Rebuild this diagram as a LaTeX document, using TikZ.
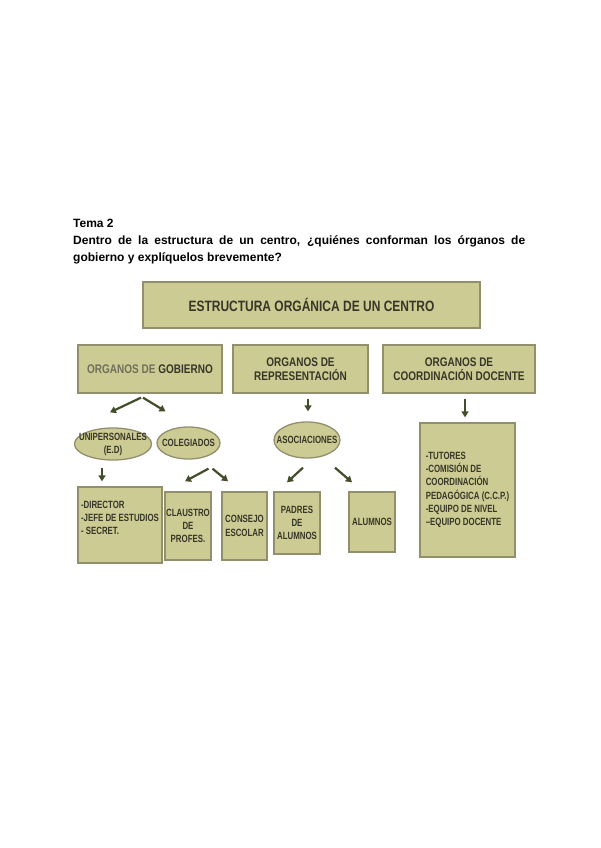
\documentclass[tikz,border=0pt]{standalone}
\usepackage{fontspec}
\setmainfont{Liberation Sans}
\newfontfamily\titlefont[FakeStretch=0.8]{Liberation Sans}
\newfontfamily\headfont[FakeStretch=0.8]{Liberation Sans}
\newfontfamily\smallfont[FakeStretch=0.75]{Liberation Sans}
\usepackage{xcolor}
\usetikzlibrary{arrows.meta,positioning,shapes.geometric}

\definecolor{boxfill}{RGB}{204,203,148}
\definecolor{boxline}{RGB}{145,143,108}
\definecolor{boxtext}{RGB}{55,55,40}
\definecolor{lighttext}{RGB}{112,112,90}
\definecolor{arrowcol}{RGB}{66,78,42}

\begin{document}
\begin{tikzpicture}[
  x=1pt, y=-1pt,
  box/.style={draw=boxline, line width=1.3pt, fill=boxfill, text=boxtext, inner sep=1pt, align=center},
  topbox/.style={box, minimum width=337, minimum height=46, font=\titlefont\bfseries\fontsize{15}{17}\selectfont},
  headbox/.style={box, minimum height=48, font=\headfont\bfseries\fontsize{12.5}{14}\selectfont},
  listbox/.style={box, font=\smallfont\bfseries\fontsize{10.5}{13.3}\selectfont},
  oval/.style={ellipse, draw=boxline, line width=1.3pt, fill=boxfill, inner sep=0pt},
  ovaltext/.style={align=center, text=boxtext, inner sep=0pt, font=\smallfont\bfseries\fontsize{10.5}{13}\selectfont},
  line/.style={-{Triangle[length=6pt, width=7pt]}, line width=2.2pt, draw=arrowcol}
]
\fill[white] (0,0) rectangle (600,848);
\useasboundingbox (0,0) rectangle (600,848);

\node[anchor=north west, text width=452pt, align=justify, inner sep=0pt,
  font=\bfseries\fontsize{12}{17}\selectfont] (question) at (73,219)
  {Tema 2\\
   Dentro de la estructura de un centro, ¿quiénes conforman los órganos de\linebreak
   gobierno y explíquelos brevemente?};

\node[topbox] (estructura) at (311.5,305) {ESTRUCTURA ORGÁNICA DE UN CENTRO};
\node[headbox, minimum width=144] (gobierno) at (150,369) {{\color{lighttext}ORGANOS DE} GOBIERNO};
\node[headbox, minimum width=135] (representacion) at (300.5,369) {ORGANOS DE\\REPRESENTACIÓN};
\node[headbox, minimum width=152] (coordinacion) at (459,369) {ORGANOS DE\\COORDINACIÓN DOCENTE};

\node[oval, minimum width=77, minimum height=32,
  label={[ovaltext]center:UNIPERSONALES\\(E.D)}] (unipersonales) at (113,444) {};
\node[oval, minimum width=63, minimum height=32,
  label={[ovaltext]center:COLEGIADOS}] (colegiados) at (188.5,443) {};
\node[oval, minimum width=66, minimum height=36,
  label={[ovaltext]center:ASOCIACIONES}] (asociaciones) at (307,440) {};

\node[listbox, align=left, minimum width=84, minimum height=76, text depth=14pt] (unipersonal) at (120,525)
  {-DIRECTOR\\-JEFE DE ESTUDIOS\\- SECRET.};
\node[listbox, minimum width=44, minimum height=68] (claustro) at (188,526) {CLAUSTRO\\DE\\PROFES.};
\node[listbox, minimum width=45, minimum height=68] (consejo) at (244.5,526) {CONSEJO\\ESCOLAR};
\node[listbox, minimum width=46, minimum height=62] (padres) at (297,523) {PADRES\\DE\\ALUMNOS};
\node[listbox, minimum width=46, minimum height=60] (alumnos) at (372,522) {ALUMNOS};
\node[listbox, align=left, minimum width=95, minimum height=134] (docente) at (467.5,490)
  {-TUTORES\\-COMISIÓN DE\\COORDINACIÓN\\PEDAGÓGICA (C.C.P.)\\-EQUIPO DE NIVEL\\–EQUIPO DOCENTE};

\draw[line] ([shift={(-9,4)}]gobierno.south) -- ([shift={(-3,-15)}]unipersonales.north);
\draw[line] ([shift={(-7,4)}]gobierno.south) -- ([shift={(-23,-15)}]colegiados.north);
\draw[line] ([shift={(-11,7)}]unipersonales.south) -- ([shift={(-18,-5)}]unipersonal.north);
\draw[line] ([shift={(20,9)}]colegiados.south) -- ([shift={(-3,-10)}]claustro.north);
\draw[line] ([shift={(24,9)}]colegiados.south) -- ([shift={(-16.5,-10)}]consejo.north);
\draw[line] ([shift={(7.5,5)}]representacion.south) -- ([shift={(1,-10)}]asociaciones.north);
\draw[line] ([shift={(-4,9)}]asociaciones.south) -- ([shift={(-10,-9)}]padres.north);
\draw[line] ([shift={(28,9)}]asociaciones.south) -- ([shift={(-20,-9)}]alumnos.north);
\draw[line] ([shift={(6,5)}]coordinacion.south) -- ([shift={(-2.5,-5)}]docente.north);
\end{tikzpicture}
\end{document}
